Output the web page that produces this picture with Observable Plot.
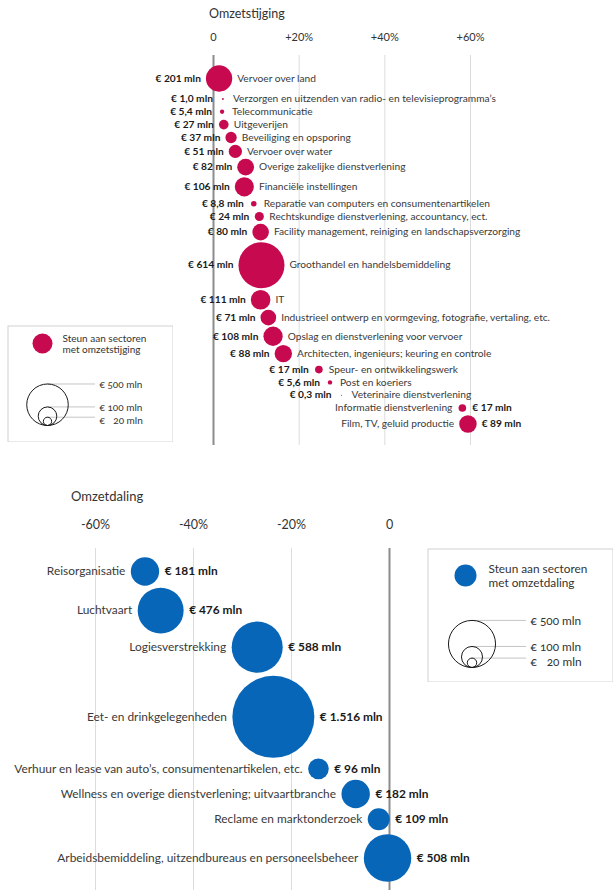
<!DOCTYPE html>
<html><head><meta charset="utf-8">
<script src="https://cdn.jsdelivr.net/npm/d3@7"></script>
<script src="https://cdn.jsdelivr.net/npm/@observablehq/plot@0.6"></script>
<style>
body{margin:0;background:#fff;font-family:Lato,sans-serif;}
#wrap{position:relative;width:616px;height:890px;overflow:hidden;}
.abs{position:absolute;}
.title{position:absolute;color:#333;white-space:nowrap;}
</style></head><body>
<div id="wrap"></div>
<script>
// ---- data ----
const upSectors = ["Vervoer over land","Verzorgen en uitzenden van radio- en televisieprogramma’s","Telecommunicatie","Uitgeverijen","Beveiliging en opsporing","Vervoer over water","Overige zakelijke dienstverlening","Financiële instellingen","Reparatie van computers en consumentenartikelen","Rechtskundige dienstverlening, accountancy, ect.","Facility management, reiniging en landschapsverzorging","Groothandel en handelsbemiddeling","IT","Industrieel ontwerp en vormgeving, fotografie, vertaling, etc.","Opslag en dienstverlening voor vervoer","Architecten, ingenieurs; keuring en controle","Speur- en ontwikkelingswerk","Post en koeriers","Veterinaire dienstverlening","Informatie dienstverlening","Film, TV, geluid productie"];
const upChange = [1.3, 2.2, 2.0, 2.4, 4.1, 5.1, 7.5, 7.2, 9.4, 10.7, 11.0, 11.2, 11.0, 12.8, 13.9, 16.3, 24.6, 27.2, 29.9, 58.1, 59.4];
const upSupport = [201, 1.0, 5.4, 27, 37, 51, 82, 106, 8.8, 24, 80, 614, 111, 71, 108, 88, 17, 5.6, 0.3, 17, 89];

const downSectors = ["Reisorganisatie","Luchtvaart","Logiesverstrekking","Eet- en drinkgelegenheden","Verhuur en lease van auto’s, consumentenartikelen, etc.","Wellness en overige dienstverlening; uitvaartbranche","Reclame en marktonderzoek","Arbeidsbemiddeling, uitzendbureaus en personeelsbeheer"];
const downChange = [-49.9, -46.7, -27.0, -23.7, -14.5, -6.9, -2.2, -0.4];
const downSupport = [181, 476, 588, 1516, 96, 182, 109, 508];

const upTicks = [0, 20, 40, 60];
const downTicks = [-60, -40, -20, 0];
const legendSizes = [500, 100, 20];
const upTitle = "Omzetstijging";
const downTitle = "Omzetdaling";
const upLegendText = "Steun aan sectoren\nmet omzetstijging";
const downLegendText = "Steun aan sectoren\nmet omzetdaling";

// ---- helpers ----
const loc = d3.formatLocale({decimal: ",", thousands: ".", grouping: [3], currency: ["€", ""]});
const f1 = loc.format(",.1f"), f0 = loc.format(",.0f");
const euro = v => "€ " + (v < 10 ? f1(v) : f0(v)) + " mln";
const ctx = document.createElement("canvas").getContext("2d");
function textW(s, fs, wt) { ctx.font = `${wt} ${fs}px Lato`; return ctx.measureText(s).width; }

// place rows top-to-bottom so that circles and labels do not collide
function layoutRows(names, change, support, o) {
  const xs = d3.scaleLinear(o.xDomain, o.xRange);
  const rs = d3.scaleSqrt([0, o.rMax], [0, o.rPx]);
  const rows = [], labels = [];
  const need = (a, b) => {
    if (a.c && b.c) {
      const s = a.r + b.r + o.cc, dx = Math.abs(a.cx - b.cx);
      return dx < s ? Math.sqrt(s * s - dx * dx) : -Infinity;
    }
    if (!(a.x1 + o.sep > b.x0 && b.x1 + o.sep > a.x0)) return -Infinity;
    if (a.c) return a.r + o.tc;
    if (b.c) return b.r + o.tc;
    return o.tt;
  };
  names.forEach((name, i) => {
    const v = support[i], p = change[i], cx = xs(p), r = rs(v);
    const off = Math.max(r, o.minR) + o.pad;
    const val = euro(v);
    const wN = textW(name, o.fs, 400), wV = textW(val, o.fs, 700);
    const nameRight = o.nameRight && cx + off + wN <= o.flipAt;
    const L = nameRight ? {t: val, w: wV, bold: true} : {t: name, w: wN, bold: false};
    const R = nameRight ? {t: name, w: wN, bold: false} : {t: val, w: wV, bold: true};
    const boxes = [
      {c: true, cx, r, x0: cx - r, x1: cx + r},
      {c: false, x0: cx - off - L.w, x1: cx - off},
      {c: false, x0: cx + off, x1: cx + off + R.w}
    ];
    let y = o.y0;
    if (rows.length) {
      y = rows[rows.length - 1].y;
      for (const prev of rows) for (const a of prev.boxes) for (const b of boxes)
        y = Math.max(y, prev.y + need(a, b));
    }
    rows.push({name, pct: p, value: v, y, boxes});
    labels.push({x: xs.invert(cx - off), y, t: L.t, bold: L.bold, anchor: "end"});
    labels.push({x: xs.invert(cx + off), y, t: R.t, bold: R.bold, anchor: "start"});
  });
  return {rows, labels};
}

function chart(o, lay) {
  const {rows, labels} = lay;
  const textMarks = [["end", true], ["end", false], ["start", true], ["start", false]].map(([anc, b]) =>
    Plot.text(labels.filter(l => l.anchor === anc && l.bold === b), {
      x: "x", y: "y", text: "t", textAnchor: anc, fontWeight: b ? 700 : 400,
      fontSize: o.fs, fill: b ? "#1a1a1a" : "#3a3a3a"
    }));
  return Plot.plot({
    width: 616, height: o.height,
    marginTop: o.mt, marginBottom: o.mb, marginLeft: o.xRange[0], marginRight: 616 - o.xRange[1],
    style: {fontFamily: "Lato, sans-serif", fontSize: o.tickFs + "px", color: "#333", background: "transparent", overflow: "visible"},
    x: {domain: o.xDomain, axis: "top", ticks: o.ticks, tickSize: 0, tickPadding: o.tickPad, tickFormat: o.tickFormat, label: null},
    y: {domain: [0, o.height], range: [0, o.height], axis: null},
    r: {domain: [0, o.rMax], range: [0, o.rPx]},
    marks: [
      Plot.ruleX(o.ticks.filter(t => t !== 0), {stroke: "#dcdcdc", strokeWidth: 1}),
      Plot.ruleX([0], {stroke: "#8c8c8c", strokeWidth: 2}),
      Plot.dot(rows, {x: "pct", y: "y", r: "value", fill: o.color}),
      ...textMarks
    ]
  });
}

function legend(o) {
  const rs = d3.scaleSqrt([0, o.rMax], [0, o.rPx]);
  const items = legendSizes.map(v => ({v, top: o.base - 2 * rs(v), cy: o.base - rs(v)}));
  let prevY = -Infinity;
  items.forEach(d => { d.ly = Math.max(d.top + 1, prevY + o.lineGap); prevY = d.ly; });
  return Plot.plot({
    width: o.w, height: o.h, margin: 0,
    style: {fontFamily: "Lato, sans-serif", background: "white", color: "#333"},
    x: {type: "identity", axis: null}, y: {type: "identity", axis: null},
    r: {domain: [0, o.rMax], range: [0, o.rPx]},
    marks: [
      Plot.frame({stroke: "#d2d2d2", inset: 0.5}),
      Plot.dot([0], {x: o.sw[0], y: o.sw[1], r: o.sw[2], fill: o.color}),
      Plot.text([o.caption], {x: o.tx, y: o.sw[1], text: d => d, textAnchor: "start", lineHeight: o.lh, fontSize: o.fs, fill: "#333"}),
      Plot.ruleY(items, {y: "top", x1: o.cx, x2: o.lx - 4, stroke: "#b5b5b5", strokeWidth: 0.8}),
      Plot.dot(items, {x: o.cx, y: "cy", r: "v", stroke: "#1a1a1a", fill: "none", strokeWidth: 1}),
      Plot.text(items, {x: o.lx, y: "ly", text: d => "€ " + (d.v < 100 ? "\u2007" : "") + d.v + " mln", textAnchor: "start", fontSize: o.fs, fill: "#333", fontVariant: "oldstyle-nums"})
    ]
  });
}

const wrap = document.getElementById("wrap");
function place(node, left, top) { const d = document.createElement("div"); d.className = "abs"; d.style.left = left + "px"; d.style.top = top + "px"; d.appendChild(node); wrap.appendChild(d); return d; }
function title(text, left, top, fs) { const d = document.createElement("div"); d.className = "title"; d.textContent = text; d.style.left = left + "px"; d.style.top = top + "px"; d.style.fontSize = fs + "px"; wrap.appendChild(d); }

// ---- top chart ----
const upOpt = {height: 455, mt: 55, mb: 10, xDomain: [0, 60], xRange: [213, 470], ticks: upTicks,
  tickFormat: d => d === 0 ? "0" : "+" + d + "%", tickFs: 11, tickPad: 15,
  rMax: 614, rPx: 23, color: "#c70a4f", fs: 10.2};
const upLay = layoutRows(upSectors, upChange, upSupport, {...upOpt, y0: 78, minR: 5, pad: 5, tt: 12.8, tc: 7.3, cc: 1.8, sep: 1, nameRight: true, flipAt: 560});
place(chart(upOpt, upLay), 0, 0);
title(upTitle, 209, 6, 12.5);
place(legend({w: 166, h: 117, rMax: 614, rPx: 23, color: "#c70a4f", sw: [35, 18, 10], tx: 55, caption: upLegendText,
  lh: 1.1, fs: 10, cx: 40, base: 100, lx: 92, lineGap: 13}), 7, 325);

// ---- bottom chart ----
const downOpt = {height: 435, mt: 93, mb: 0, xDomain: [-60, 0], xRange: [95, 389], ticks: downTicks,
  tickFormat: d => d === 0 ? "0" : d + "%", tickFs: 12.5, tickPad: 20,
  rMax: 1516, rPx: 41, color: "#0766b8", fs: 11.9};
const downLay = layoutRows(downSectors, downChange, downSupport, {...downOpt, y0: 116, minR: 0, pad: 5.5, tt: 14.5, tc: 11, cc: 5, sep: 1, nameRight: false, flipAt: 600});
place(chart(downOpt, downLay), 0, 455);
title(downTitle, 71, 488, 13);
place(legend({w: 186, h: 134, rMax: 1516, rPx: 41, color: "#0766b8", sw: [38, 27, 11], tx: 61, caption: downLegendText,
  lh: 1.2, fs: 11.8, cx: 44.5, base: 119, lx: 103, lineGap: 15}), 427, 548);
</script>
</body></html>
